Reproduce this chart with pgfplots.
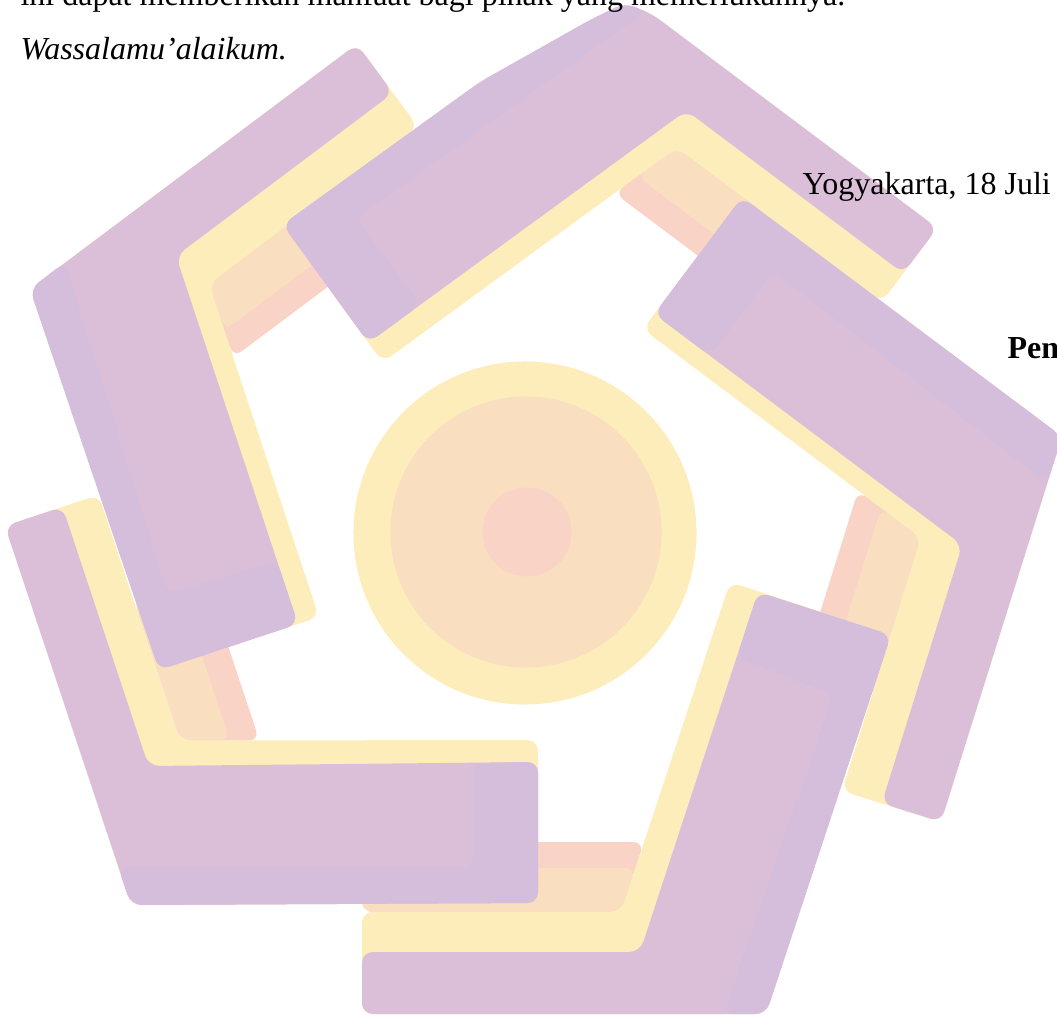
\documentclass[border=0pt]{standalone}
\usepackage{fontspec}
\setmainfont{Liberation Serif}
\usepackage{pgfplots}
\pgfplotsset{compat=1.18}
\definecolor{cpur}{RGB}{219,191,216}
\definecolor{clav}{RGB}{213,190,220}
\definecolor{cyel}{RGB}{252,237,186}
\definecolor{cpea}{RGB}{250,222,192}
\definecolor{cpin}{RGB}{249,211,198}
\pgfplotsset{blob/.style={draw=none, fill=#1, mark=none, rounded corners=4pt, forget plot}}
\begin{document}
\begin{tikzpicture}
\useasboundingbox (0,0) rectangle (396.375pt,381.75pt);
\clip (0,0) rectangle (396.375pt,381.75pt);
\begin{axis}[at={(0,0)}, anchor=south west, scale only axis,
  width=396.375pt, height=381.75pt,
  xmin=0, xmax=1057, ymin=0, ymax=1018, y dir=reverse,
  hide axis, clip=true]
% centre circles
\addplot[only marks, mark=*, mark size=64.125pt, color=cyel, forget plot] coordinates {(525,533)};
\addplot[only marks, mark=*, mark size=50.625pt, color=cpea, forget plot] coordinates {(526,532)};
\addplot[only marks, mark=*, mark size=16.5pt, color=cpin, forget plot] coordinates {(527,532)};
% shadows
\addplot[blob=cpin] coordinates {(208.8,283.6)(370,162.9)(414.3,222.1)(233.3,357.6)} -- cycle;
\addplot[blob=cpea] coordinates {(208.8,283.6)(370,162.9)(398.2,200.5)(224.4,330.6)} -- cycle;
\addplot[blob=cpin] coordinates {(677,147.5)(765,213.5)(720.6,272.7)(614.4,193.1)} -- cycle;
\addplot[blob=cpea] coordinates {(677,147.5)(765,213.5)(736.8,251.1)(637.3,176.5)} -- cycle;
\addplot[blob=cpin] coordinates {(921,537.8)(870.3,700.2)(799.6,678.1)(858.1,490.6)} -- cycle;
\addplot[blob=cpea] coordinates {(921,537.8)(870.3,700.2)(825.4,686.2)(881.1,507.9)} -- cycle;
\addplot[blob=cpin] coordinates {(362,842)(644,842)(621,912)(362,912)} -- cycle;
\addplot[blob=cpea] coordinates {(362,868)(636,868)(621,912)(362,912)} -- cycle;
\addplot[blob=cpin] coordinates {(133.8,600)(205,576.4)(259.5,740.5)(180.2,740.5)} -- cycle;
\addplot[blob=cpea] coordinates {(133.8,600)(178.4,585.2)(229.9,740.5)(180.2,740.5)} -- cycle;
% arm A (upper left)
\addplot[blob=cyel] coordinates {(30,289)(357,44)(418,127)(209,284)(319,617)(159,670)} -- cycle;
\addplot[blob=cpur] coordinates {(30,289)(357,44)(393,93)(176,256)(298,624)(159,670)} -- cycle;
\addplot[blob=clav] coordinates {(30,289)(65,262)(168,594)(277,561)(298,624)(159,670)} -- cycle;
% arm B (top)
\addplot[blob=cyel] coordinates {(282.5,224.6)(480,82)(590,20)(625,3)(652,14)(780,110)(937.3,228)(881.7,302.1)(677,147.5)(382.7,362.3)} -- cycle;
\addplot[blob=cpur] coordinates {(282.5,224.6)(480,82)(590,20)(625,3)(652,14)(780,110)(937.3,228)(903.3,273.3)(686.4,110.5)(368.4,342.7)} -- cycle;
\addplot[blob=clav] coordinates {(282.5,224.6)(480,82)(590,20)(625,3)(646,11)(355.7,218.7)(420.3,304.8)(368.4,342.7)} -- cycle;
% arm C (right)
\addplot[blob=cyel] coordinates {(742,197)(1062,436.5)(941,822)(842,791)(921,537.8)(642.9,329.2)} -- cycle;
\addplot[blob=cpur] coordinates {(742,197)(1062,436.5)(941,822)(881.7,803.3)(962.3,545)(654.3,314)} -- cycle;
\addplot[blob=clav] coordinates {(742,197)(1062,436.5)(1047,483)(773.4,271.2)(710,355.8)(654.3,314)} -- cycle;
% arm D (bottom)
\addplot[blob=cyel] coordinates {(730,582)(891,635)(766,1014)(362,1014)(362,912)(621,912)} -- cycle;
\addplot[blob=cpur] coordinates {(758,592)(891,635)(766,1014)(362,1014)(362,952)(640,952)} -- cycle;
\addplot[blob=clav] coordinates {(758,592)(891,635)(766,1014)(723,1014)(833,695)(737,657)} -- cycle;
% arm E (lower left)
\addplot[blob=cyel] coordinates {(5,526)(98.6,494.8)(180,740.5)(538,740)(538,903)(131,905)} -- cycle;
\addplot[blob=cpur] coordinates {(5,526)(62.5,506.8)(148.5,766)(538,762)(538,903)(131,905)} -- cycle;
\addplot[blob=clav] coordinates {(118,867)(473,867)(473,763)(538,762)(538,903)(131,905)} -- cycle;
% text
\node[anchor=base west, inner sep=0pt, font=\fontsize{12}{14.4}\selectfont] at (axis cs:20,6) {ini dapat memberikan manfaat bagi pihak yang memerlukannya.};
\node[anchor=base west, inner sep=0pt, font=\fontsize{12}{14.4}\selectfont\itshape] at (axis cs:20,60) {Wassalamu’alaikum.};
\node[anchor=base west, inner sep=0pt, font=\fontsize{12}{14.4}\selectfont] at (axis cs:802,195) {Yogyakarta, 18 Juli};
\node[anchor=base west, inner sep=0pt, font=\fontsize{12}{14.4}\selectfont\bfseries] at (axis cs:1007,358) {Pen};
\end{axis}
\end{tikzpicture}
\end{document}
